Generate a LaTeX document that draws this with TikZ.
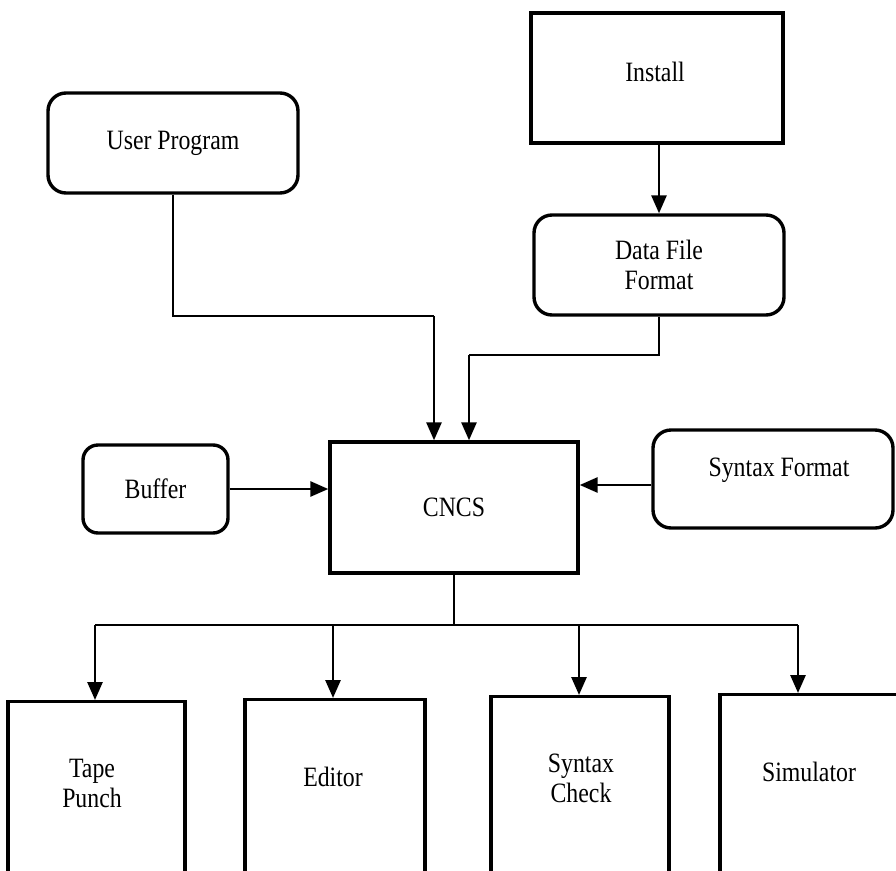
\documentclass[tikz,border=0pt]{standalone}
\usepackage{fontspec}
\setmainfont{Liberation Serif}[FakeStretch=0.85]
\usetikzlibrary{arrows.meta}
\tikzset{
  box/.style={draw, line width=3.4pt, inner sep=0pt, align=center, font=\fontsize{28}{30}\selectfont},
  rbox/.style={box, rounded corners=18pt},
  lbl/.style={inner sep=0pt, align=center, font=\fontsize{28}{30}\selectfont},
  conn/.style={line width=2.8pt},
  arr/.style={conn, -{Triangle[length=18pt,width=15pt]}},
}
\begin{document}
\begin{tikzpicture}[x=1pt,y=-1pt]
\useasboundingbox (0,0) rectangle (896,870);
\clip (0,0) rectangle (896,870);
% top boxes
\node[rbox, minimum width=250pt, minimum height=100pt] (up) at (173,143) {User Program};
\node[box, minimum width=252pt, minimum height=130pt] (install) at (657,78) {};
\node[lbl] (installtxt) at (655,72) {Install};
\node[rbox, minimum width=250pt, minimum height=100pt] (dff) at (659,265) {Data File\\Format};
% middle row
\node[box, minimum width=248pt, minimum height=131pt] (cncs) at (454,507.5) {CNCS};
\node[rbox, rounded corners=15pt, minimum width=145pt, minimum height=88pt] (buffer) at (155.5,489) {Buffer};
\node[rbox, minimum width=240pt, minimum height=98pt] (sf) at (773,479) {};
\node[lbl] (sftxt) at (779,470) {Syntax Format};
% bottom boxes
\node[box, anchor=north, minimum width=177pt, minimum height=220pt] (tp) at (96.5,700) {};
\node[lbl] (tptxt) at (92,783) {Tape\\Punch};
\node[box, anchor=north, minimum width=180pt, minimum height=220pt] (ed) at (335,698) {};
\node[lbl] (edtxt) at (333,777) {Editor};
\node[box, anchor=north, minimum width=178pt, minimum height=220pt] (sc) at (580,695) {};
\node[lbl] (sctxt) at (581,778) {Syntax\\Check};
\node[box, anchor=north, minimum width=190pt, minimum height=220pt] (sim) at (815,693) {};
\node[lbl] (simtxt) at (809,772) {Simulator};
% junctions
\coordinate (j1) at (434,316);
\coordinate (j2) at (469,355);
\coordinate (bus) at (454,625);
\coordinate (b1) at (95,625);
\coordinate (b2) at (333,625);
\coordinate (b3) at (579,625);
\coordinate (b4) at (798,625);
% connectors
\draw[conn] (up.south) |- (j1);
\draw[arr] (j1) -- (j1 |- cncs.north);
\draw[arr] (install.south -| dff.north) -- (dff.north);
\draw[conn] (dff.south) |- (j2);
\draw[arr] (j2) -- (j2 |- cncs.north);
\draw[arr] (buffer.east) -- (cncs.west |- buffer.east);
\draw[arr] (sf.west |- 0,485) -- (cncs.east |- 0,485);
\draw[conn] (cncs.south) -- (bus);
\draw[conn] (b1) -- (b4);
\draw[arr] (b1) -- (b1 |- tp.north);
\draw[arr] (b2) -- (b2 |- ed.north);
\draw[arr] (b3) -- (b3 |- sc.north);
\draw[arr] (b4) -- (b4 |- sim.north);
\end{tikzpicture}
\end{document}
